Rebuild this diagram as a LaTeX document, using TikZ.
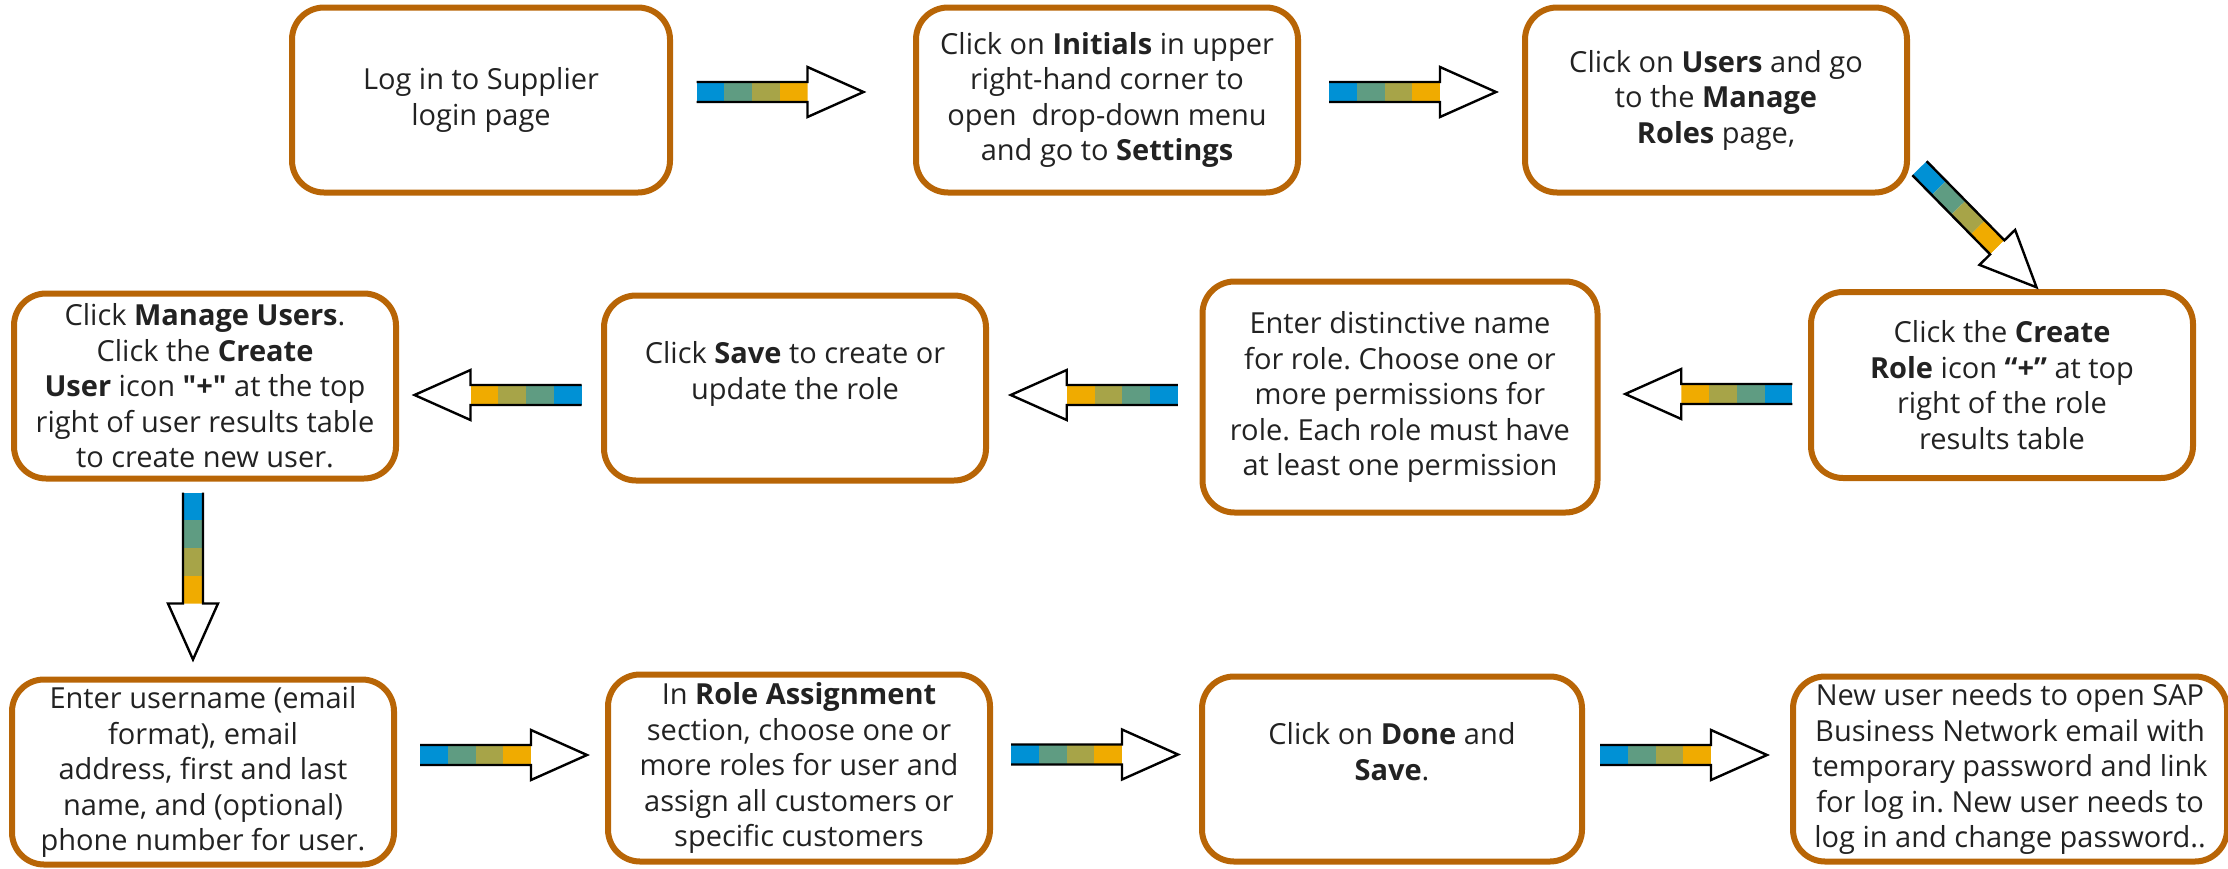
\documentclass[tikz,border=0pt]{standalone}
\usepackage{fontspec}
\setmainfont{Open Sans}
\frenchspacing
\usetikzlibrary{calc}

\definecolor{stepedge}{RGB}{184,101,6}
\definecolor{steptext}{HTML}{222222}
\definecolor{barblue}{HTML}{0091D5}
\definecolor{barteal}{HTML}{5F9C82}
\definecolor{barolive}{HTML}{A7A448}
\definecolor{bargold}{HTML}{F0AB00}

\tikzset{
  stepbox/.style={draw=stepedge, line width=3pt, rounded corners=16pt,
    outer sep=0pt, minimum width=191pt, minimum height=92.5pt,
    align=center, text=steptext, font=\fontsize{14.5}{17.75}\selectfont},
  flowarrow/.pic={
    \foreach \c [count=\i from 0] in {barblue,barteal,barolive,bargold}
      \fill[\c] ({-83.5+27.75*\i},-10) rectangle ++(27.75,20);
    \fill[white] (27.5,-25) -- (83.5,0) -- (27.5,25) -- cycle;
    \draw[line width=1.2pt, line join=miter]
      (-83.5,-10) -- (27.5,-10) -- (27.5,-25) -- (83.5,0)
      -- (27.5,25) -- (27.5,10) -- (-83.5,10);
  }
}

% connector between two anchors: angle, then shift
\newcommand\stepconn[4]{\path ($(#1)!0.5!(#2)+(#4)$) pic[rotate=#3]{flowarrow};}

\begin{document}
\begin{tikzpicture}[x=0.5pt,y=-0.5pt]
  \useasboundingbox (0,0) rectangle (2228,868);
  \draw
    (481,100) node[stepbox, minimum width=189pt] (1)
      {Log in to Supplier\\login page}
    (1107,100) node[stepbox] (2)
      {Click on \textbf{Initials} in upper\\right-hand corner to\\open\ \ drop-down menu\\and go to \textbf{Settings}}
    (1716,100) node[stepbox] (3)
      {Click on \textbf{Users} and go\\to the \textbf{Manage}\\\textbf{Roles} page,}
    (2002,385) node[stepbox, minimum height=93pt] (4)
      {Click the \textbf{Create}\\\textbf{Role} icon \textbf{“+”} at top\\right of the role\\results table}
    (1400,397) node[stepbox, minimum width=197.5pt, minimum height=115.5pt] (5)
      {Enter distinctive name\\for role. Choose one or\\more permissions for\\role. Each role must have\\at least one permission}
    (795,388) node[stepbox] (6)
      {Click \textbf{Save} to create or\\update the role\\\mbox{}}
    (205,386) node[stepbox] (7)
      {Click \textbf{Manage Users}.\\Click the \textbf{Create}\\\textbf{User} icon \textbf{\textquotedbl+\textquotedbl} at the top\\right of user results table\\to create new user.}
    (203,772) node[stepbox] (8)
      {Enter username (email\\format), email\\address, first and last\\name, and (optional)\\phone number for user.}
    (799,768) node[stepbox, minimum height=93.5pt] (9)
      {In \textbf{Role Assignment}\\section, choose one or\\more roles for user and\\assign all customers or\\specific customers}
    (1392,769) node[stepbox, minimum width=190pt] (10)
      {Click on \textbf{Done} and\\\textbf{Save}.\\\mbox{}}
    (2010,769) node[stepbox, minimum width=217pt] (11)
      {New user needs to open SAP\\Business Network email with\\temporary password and link\\for log in. New user needs to\\log in and change password..};
  \begin{scope}
    \stepconn{1.east}{2.west}{0}{-13,-8}
    \stepconn{2.east}{3.west}{0}{1,-8}
    \stepconn{3.south east}{4.north}{-45.5}{23.5,-14.5}
    \stepconn{4.west}{5.east}{180}{4.5,3}
    \stepconn{5.west}{6.east}{180}{0,2.5}
    \stepconn{6.west}{7.east}{180}{-2,8}
    \stepconn{7.south}{8.north}{-90}{-11,-3}
    \stepconn{8.east}{9.west}{0}{2.5,-15}
    \stepconn{9.east}{10.west}{0}{-1.5,-14}
    \stepconn{10.east}{11.west}{0}{-4,-14}
  \end{scope}
\end{tikzpicture}
\end{document}
